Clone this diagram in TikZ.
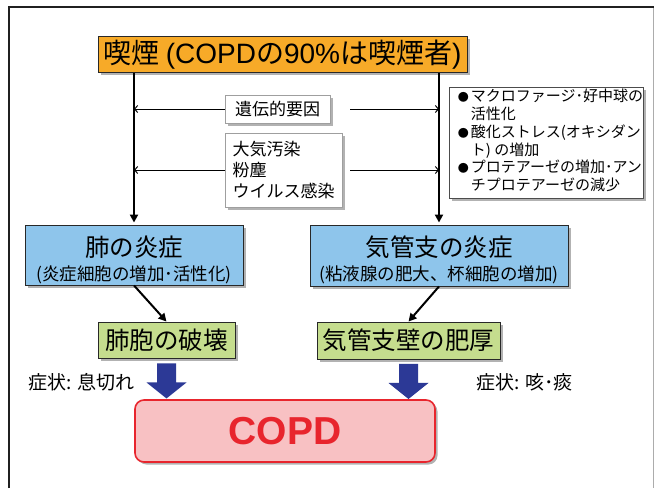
\documentclass[tikz,border=0pt]{standalone}
\usepackage{fontspec}
\setmainfont{Noto Sans CJK JP}
\newfontfamily\lat{Liberation Sans}
\usetikzlibrary{arrows.meta,shadows,calc}
\definecolor{hdr}{RGB}{247,170,40}
\definecolor{lblue}{RGB}{142,197,235}
\definecolor{lgreen}{RGB}{197,221,142}
\definecolor{pinkfill}{RGB}{248,193,195}
\definecolor{copdred}{RGB}{232,37,45}
\definecolor{barrow}{RGB}{44,57,150}
\definecolor{edge}{RGB}{40,40,40}
\newcommand{\bulmark}{\makebox[9pt][l]{\fontsize{11}{11}\selectfont ●}}
\tikzset{
  shad/.style={drop shadow={shadow xshift=2.5pt, shadow yshift=-2.5pt, fill=black, opacity=0.3}},
  boxc/.style={draw=edge, line width=0.9pt, inner sep=0pt, shad},
  whitebox/.style={draw=gray!75, line width=0.9pt, fill=white, inner sep=0pt, shad},
  thickarrow/.style={line width=2.4pt, -{Triangle[length=8pt,width=8pt]}},
  thinarrow/.style={line width=1pt, -{Straight Barb[length=3pt,width=7pt]}},
  f28/.style={font=\fontsize{28}{30}\selectfont},
  f25/.style={font=\fontsize{24.5}{27}\selectfont},
  f18/.style={font=\fontsize{17.5}{20}\selectfont},
  f19/.style={font=\fontsize{19}{21}\selectfont},
  f17/.style={font=\fontsize{17}{21}\selectfont},
}
\begin{document}
\begin{tikzpicture}[x=1pt,y=-1pt]
\useasboundingbox (0,0) rectangle (654,488);
\fill[white] (0,0) rectangle (654,488);
% frame
\draw[line width=1pt, gray!65] (653,7) -- (653,488);
\draw[line width=2pt, gray!25!black] (9,488) -- (9,7) -- (654,7);

% header
\node[boxc, fill=hdr, minimum width=369pt, minimum height=36pt, f28] (top) at (282.5,54.5)
  {喫煙 {\lat (COPD}の{\lat 90\%}は喫煙者{\lat )}};

% blue boxes
\node[boxc, fill=lblue, minimum width=218pt, minimum height=60pt] (lb) at (134,255) {};
\node[f25] (lbt) at ($(lb.center)+(0,-8)$) {肺の炎症};
\node[f18] (lbs) at ($(lb.center)+(0,20)$) {(炎症細胞の増加･活性化)};
\node[boxc, fill=lblue, minimum width=258pt, minimum height=61pt] (rb) at (439,255.5) {};
\node[f25] (rbt) at ($(rb.center)+(0,-8.5)$) {気管支の炎症};
\node[f18] (rbs) at ($(rb.center)+(0,19.5)$) {(粘液腺の肥大、杯細胞の増加)};

% factor boxes
\node[whitebox, minimum width=105pt, minimum height=28pt, f17] (gen) at (277.5,109) {遺伝的要因};
\node[whitebox, minimum width=117pt, minimum height=74pt, f17, align=left] (env) at (283.5,170)
  {大気汚染\\粉塵\\ウイルス感染};
\coordinate (rstart) at (350,0);

% bullet box
\node[whitebox, draw=gray!60!black, minimum width=193pt, minimum height=111pt] (bul) at (546.5,142.5)
  {\fontsize{15}{17.2}\selectfont\hspace*{8pt}%
   \begin{tabular}{@{}l@{\hspace{4pt}}l@{}}
   \bulmark & マクロファージ･好中球の\\
     & 活性化\\
   \bulmark & 酸化ストレス(オキシダン\\
     & ト) の増加\\
   \bulmark & プロテアーゼの増加･アン\\
     & チプロテアーゼの減少
   \end{tabular}};

% green boxes
\node[boxc, fill=lgreen, minimum width=137pt, minimum height=36pt, f25] (lg) at (166.5,340) {肺胞の破壊};
\node[boxc, fill=lgreen, minimum width=183pt, minimum height=37pt, f25] (rg) at (408.5,340.5) {気管支壁の肥厚};

% COPD
\node[draw=copdred, line width=1.6pt, fill=pinkfill, rounded corners=9pt, minimum width=300pt,
      minimum height=62pt, inner sep=0pt, shad, text=copdred,
      font=\lat\bfseries\fontsize{39}{42}\selectfont] (copd) at (285,431) {COPD};

% symptom labels
\node[anchor=west, f19] (s1) at (25,382) {症状: 息切れ};
\node[anchor=west, f19] (s2) at (473,382) {症状: 咳･痰};

% vertical thick arrows
\draw[thickarrow, shorten >=2pt] (lb.north |- top.south) -- (lb.north);
\draw[thickarrow, shorten >=2pt] (rb.north |- top.south) -- (rb.north);

% thin arrows
\draw[thinarrow] (gen.west) -- (gen.west -| lb.north);
\draw[thinarrow] (gen.east -| rstart) -- (gen.east -| rb.north);
\draw[thinarrow] (env.west) -- (env.west -| lb.north);
\draw[thinarrow] (env.east -| rstart) -- (env.east -| rb.north);

% diagonal arrows
\draw[thickarrow, line width=2pt] (lb.south) -- (lg.north);
\draw[thickarrow, line width=2pt] (rb.south) -- (rg.north);

% block arrows
\fill[barrow] ($(lg.south)+(-9.5,5)$) -- ++(19,0) -- ++(0,19) -- ++(10.5,0)
  -- ($(lg.south)+(0,40)$) -- ($(lg.south)+(-20,24)$) -- ++(10.5,0) -- cycle;
\fill[barrow] ($(rg.south)+(-9.5,4.5)$) -- ++(19,0) -- ++(0,19) -- ++(10.5,0)
  -- ($(rg.south)+(0,39.5)$) -- ($(rg.south)+(-20,23.5)$) -- ++(10.5,0) -- cycle;
\end{tikzpicture}
\end{document}
